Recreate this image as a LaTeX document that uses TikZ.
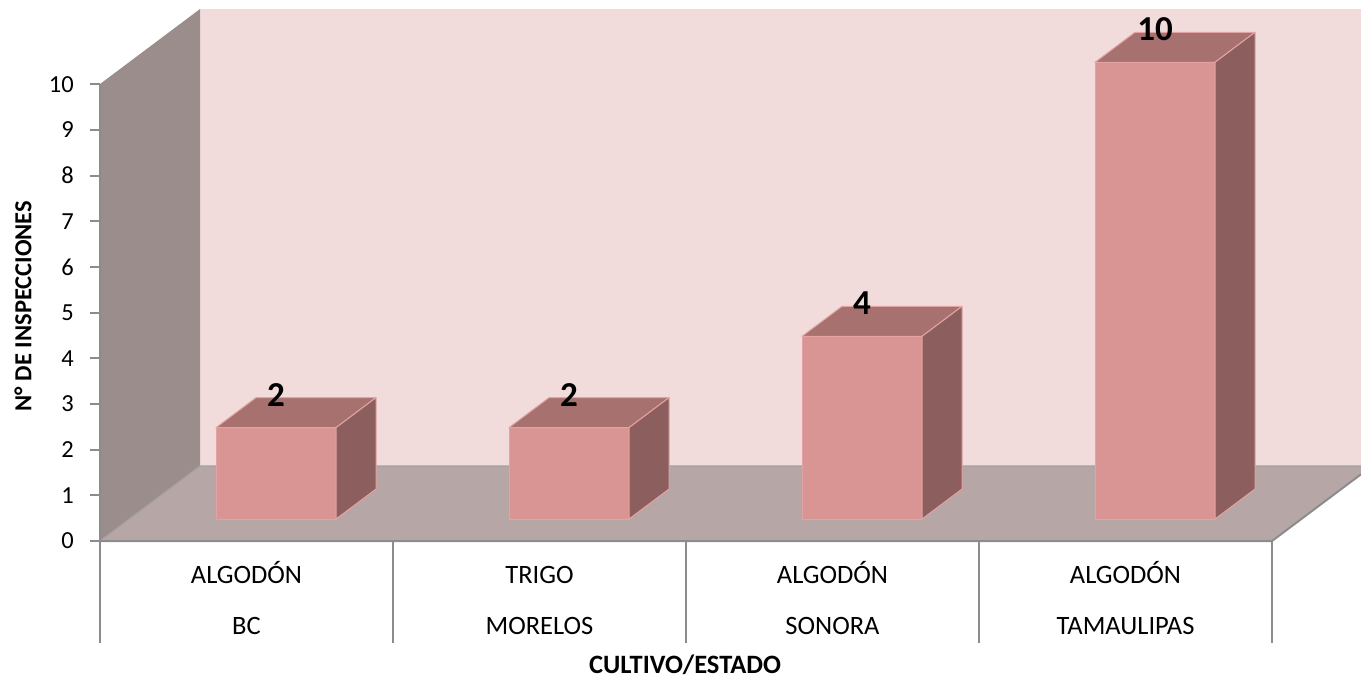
\documentclass[tikz,border=0pt]{standalone}
\usepackage{fontspec}
\setmainfont{Carlito}
\usetikzlibrary{positioning}

\definecolor{backwall}{HTML}{F2DCDB}
\definecolor{sidewall}{HTML}{9B8D8C}
\definecolor{floorcol}{HTML}{B7A6A6}
\definecolor{barfront}{HTML}{D99594}
\definecolor{bartop}{HTML}{A6716F}
\definecolor{barside}{HTML}{8C5F5E}
\definecolor{baredge}{HTML}{E3A3A2}
\definecolor{axisgray}{HTML}{8C8C8C}

\begin{document}
\begin{tikzpicture}[
      x=1pt, y=-1pt,
      axisline/.style={draw=axisgray, line width=2pt},
      edgeline/.style={draw=axisgray!80, line width=1.2pt},
      barface/.style={draw=baredge, line width=1pt, line join=round},
      ticklabel/.style={anchor=east, inner sep=0pt, font=\fontsize{24.5}{28}\selectfont},
      catlabel/.style={anchor=base, inner sep=0pt, font=\fontsize{26.5}{30}\selectfont},
      vallabel/.style={inner sep=0pt, font=\bfseries\fontsize{35}{38}\selectfont},
      axistitle/.style={inner sep=0pt, font=\bfseries\fontsize{24.5}{28}\selectfont}
    ]
    \useasboundingbox (0,0) rectangle (1361,678);
    % walls and floor
    \fill[backwall] (200,9) rectangle (1361,466);
    \fill[sidewall] (100,541) -- (100,84) -- (200,9) -- (200,466) -- cycle;
    \fill[floorcol] (100,541) -- (200,466) -- (1361,466) -- (1361,474.3) -- (1272,541) -- cycle;
    \draw[edgeline] (100,541) -- (200,466) -- (1361,466);
    \draw[axisline] (100,84) -- (100,541) -- (1272,541) -- (1361,474.3);
    % ticks and values on the axis
    \foreach \v in {0,...,10} {
      \draw[axisline] (90,541-\v*45.67) -- (100,541-\v*45.67);
      \node[ticklabel] (tick\v) at (74,541-\v*45.67) {\v};
    }
    % category separators
    \foreach \i in {0,...,4}
      \draw[axisline] (100+\i*293,541) -- (100+\i*293,643);
    % bars
    \foreach \v/\i in {2/0, 2/1, 4/2, 10/3} {
      \pgfmathsetmacro{\xl}{216+293*\i}
      \pgfmathsetmacro{\xr}{\xl+120}
      \pgfmathsetmacro{\yt}{519-\v*45.67}
      \filldraw[barface, fill=barfront] (\xl,519) rectangle (\xr,\yt);
      \filldraw[barface, fill=bartop] (\xl,\yt) -- (\xr,\yt) -- (\xr+40,\yt-30) -- (\xl+40,\yt-30) -- cycle;
      \filldraw[barface, fill=barside] (\xr,519) -- (\xr,\yt) -- (\xr+40,\yt-30) -- (\xr+40,489) -- cycle;
      \node[vallabel] (val\i) at (\xl+60,\yt-33) {\v};
    }
    % category labels
    \foreach \crop/\state [count=\i from 0] in {ALGODÓN/BC, TRIGO/MORELOS, ALGODÓN/SONORA, ALGODÓN/TAMAULIPAS} {
      \node[catlabel] (crop\i) at (246.5+293*\i,583) {\crop};
      \node[catlabel] (state\i) at (246.5+293*\i,634) {\state};
    }
    \node[axistitle, rotate=90] (ytitle) at (23,306) {N° DE INSPECCIONES};
    \node[axistitle, anchor=base, font=\bfseries\fontsize{26.5}{30}\selectfont] (xtitle) at (685,673) {CULTIVO/ESTADO};
\end{tikzpicture}
\end{document}
